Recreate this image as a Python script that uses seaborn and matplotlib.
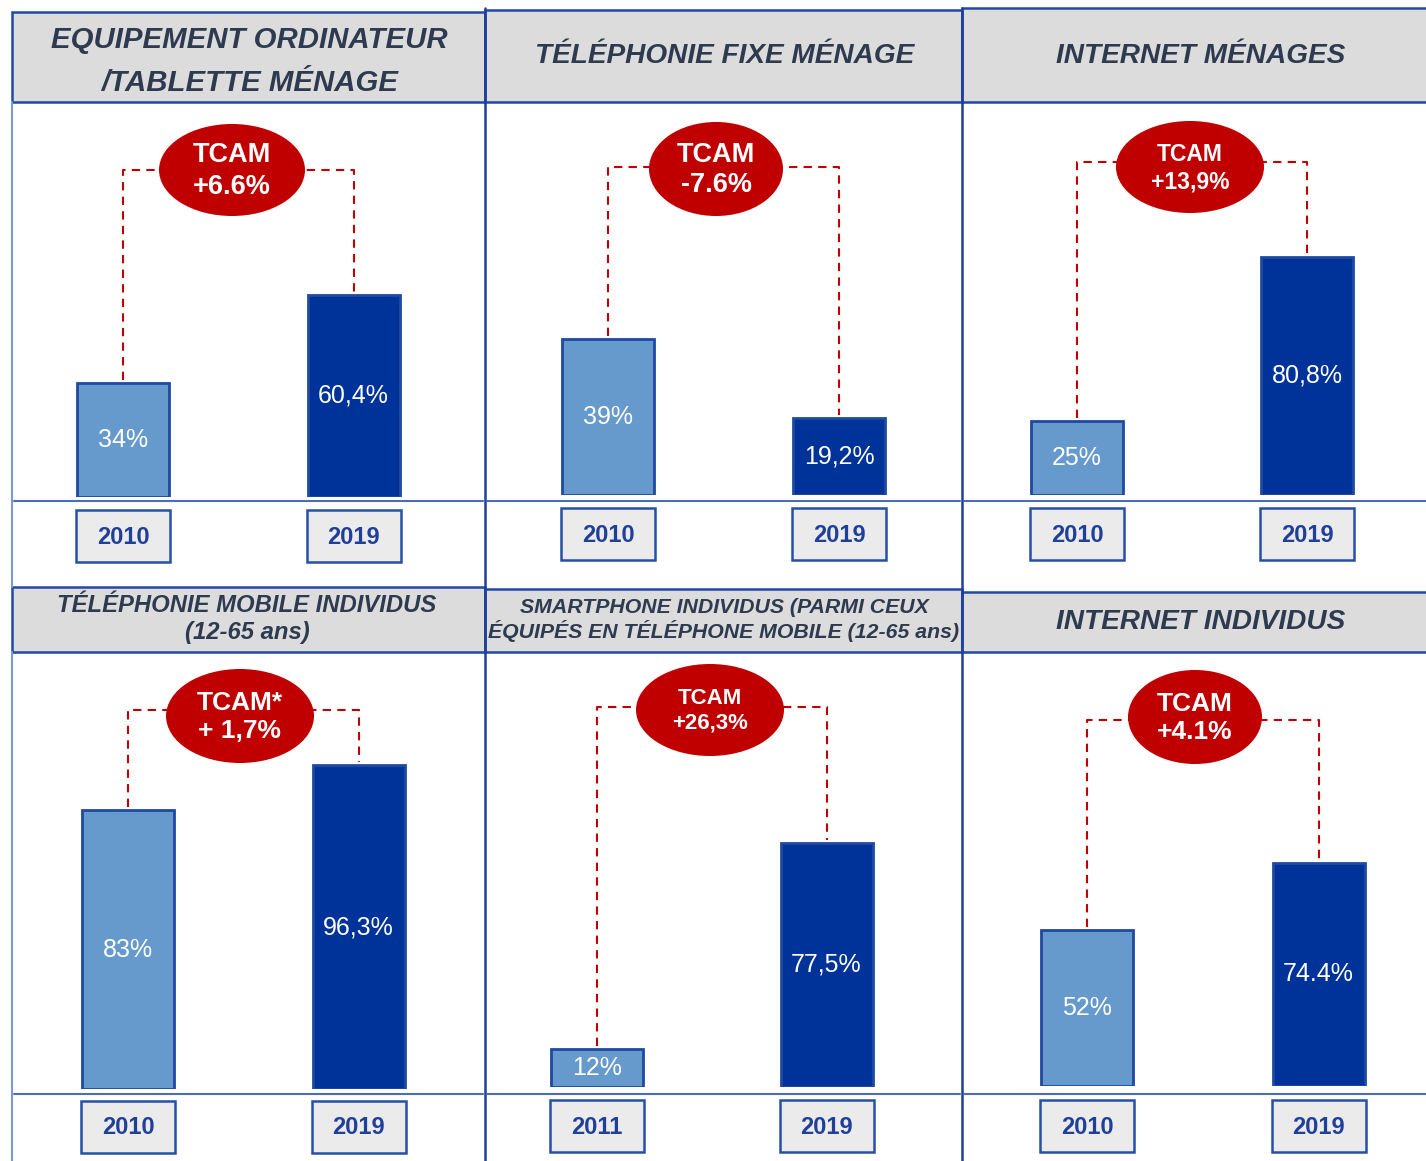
import numpy as np
import pandas as pd
import seaborn as sns
import matplotlib.pyplot as plt
from matplotlib.patches import Ellipse, Rectangle

# data
titles = [
    "EQUIPEMENT ORDINATEUR\n/TABLETTE MÉNAGE",
    "TÉLÉPHONIE FIXE MÉNAGE",
    "INTERNET MÉNAGES",
    "TÉLÉPHONIE MOBILE INDIVIDUS\n(12-65 ans)",
    "SMARTPHONE INDIVIDUS (PARMI CEUX\nÉQUIPÉS EN TÉLÉPHONE MOBILE (12-65 ans)",
    "INTERNET INDIVIDUS",
]
years = [
    ["2010", "2019"], ["2010", "2019"], ["2010", "2019"],
    ["2010", "2019"], ["2011", "2019"], ["2010", "2019"],
]
values = [
    [34, 60.4], [39, 19.2], [25, 80.8],
    [83, 96.3], [12, 77.5], [52, 74.4],
]
value_labels = [
    ["34%", "60,4%"], ["39%", "19,2%"], ["25%", "80,8%"],
    ["83%", "96,3%"], ["12%", "77,5%"], ["52%", "74.4%"],
]
tcam_labels = [
    "TCAM\n+6.6%", "TCAM\n-7.6%", "TCAM\n+13,9%",
    "TCAM*\n+ 1,7%", "TCAM\n+26,3%", "TCAM\n+4.1%",
]

# layout (pixels, y from top)
W, H = 1426, 1161
header_boxes = [(12, 12, 485, 102), (485, 10, 962, 102), (962, 8, 1432, 102),
                (12, 587, 485, 652), (485, 589, 962, 652), (962, 592, 1432, 652)]
title_xy = [(249.5, 61.5), (725, 56), (1201, 56), (247, 619), (724, 620), (1201, 622)]
title_size = [21.2, 20.2, 20.2, 17.2, 15.3, 20.2]
title_ls = [1.64, 1.2, 1.2, 1.2, 1.15, 1.2]
bar_centers = [(123, 353.5), (608, 839), (1077, 1307),
               (128, 358.5), (597, 826.5), (1087, 1318.5)]
bar_bottom = [497, 495, 495, 1089, 1087, 1086]
px_per_pct = [3.35, 4.0, 2.95, 3.36, 3.15, 3.0]
year_box_top = [510, 508, 508, 1101, 1100, 1100]
ellipses = [(232, 170, 146, 92), (716, 169, 134, 94), (1190, 167, 148, 92),
            (240, 716, 148, 94), (710, 710, 148, 92), (1195, 717, 134, 94)]
tcam_size = [19.5, 19.5, 16.5, 19, 16, 19]
dash_level = [170, 167, 162, 710, 707, 720]

LIGHT = "#6699CC"
DARK = "#003399"
EDGE = "#1F4AA0"
RED = "#C00000"
HEAD_FILL = "#DCDCDC"
HEAD_TEXT = "#2E3A4F"
YEAR_FILL = "#EBEBEB"
YEAR_TEXT = "#1F3F99"

sns.set_style("white")
plt.rcParams["font.family"] = ["Liberation Sans", "DejaVu Sans"]

fig = plt.figure(figsize=(W / 100, H / 100), dpi=100)


def fx(px):
    return px / W


def fy(py):
    return 1 - py / H


panel_axes = []
for i in range(6):
    c0, c1 = bar_centers[i]
    span = c1 - c0
    left = c0 - span / 2
    bottom = bar_bottom[i]
    top = bottom - 420
    ax = fig.add_axes([fx(left), fy(bottom), fx(2 * span), (bottom - top) / H])
    ax.set_zorder(2)
    ax.patch.set_alpha(0)
    df = pd.DataFrame({"year": years[i], "value": values[i]})
    sns.barplot(data=df, x="year", y="value", hue="year", palette=[LIGHT, DARK],
                legend=False, width=92 / span, edgecolor=EDGE, linewidth=2,
                saturation=1, ax=ax)
    ax.set_xlim(-0.5, 1.5)
    ax.set_ylim(0, 420 / px_per_pct[i])
    for j, v in enumerate(values[i]):
        ax.text(j, v / 2, value_labels[i][j], ha="center", va="center",
                color="white", fontsize=18)
    ax.axis("off")
    panel_axes.append(ax)

# overlay canvas in pixel coordinates
ov = fig.add_axes([0, 0, 1, 1])
ov.set_zorder(3)
ov.patch.set_alpha(0)
ov.set_xlim(0, W)
ov.set_ylim(H, 0)
ov.axis("off")

# frame lines
ov.plot([12, 12], [102, 587], color="#7F9AD0", lw=1.5)
ov.plot([12, 12], [652, H], color="#7F9AD0", lw=1.5)
for x in (485, 962):
    ov.plot([x, x], [8, H], color="#1F3F99", lw=1.8)
for y in (501, 1094):
    for a, b in [(14, 483), (487, 960), (964, W)]:
        ov.plot([a, b], [y, y], color="#4A6DB8", lw=1.5)

for i in range(6):
    x0, y0, x1, y1 = header_boxes[i]
    ov.add_patch(Rectangle((x0, y0), x1 - x0, y1 - y0, facecolor=HEAD_FILL,
                           edgecolor="#1F4AA8", lw=1.8, zorder=1))
    tx, ty = title_xy[i]
    ov.text(tx, ty, titles[i], ha="center", va="center",
            fontsize=title_size[i], fontweight="bold", fontstyle="italic",
            color=HEAD_TEXT, linespacing=title_ls[i], zorder=2)

    ax = panel_axes[i]
    tops = []
    xs = []
    for j, v in enumerate(values[i]):
        dx, dy = ax.transData.transform((j, v))
        xs.append(dx)
        tops.append(H - dy)
    lvl = dash_level[i]
    ov.plot([xs[0], xs[0], xs[1], xs[1]], [tops[0] - 3, lvl, lvl, tops[1] - 3],
            color=RED, lw=1.5, ls=(0, (4, 3)), zorder=3)
    cx, cy, ew, eh = ellipses[i]
    ov.add_patch(Ellipse((cx, cy), ew, eh, facecolor=RED, edgecolor="none", zorder=4))
    ov.text(cx, cy + 1, tcam_labels[i], ha="center", va="center", color="white",
            fontsize=tcam_size[i], fontweight="bold", linespacing=1.25, zorder=5)

    for j, yr in enumerate(years[i]):
        yt = year_box_top[i]
        ov.add_patch(Rectangle((xs[j] - 47, yt), 94, 52, facecolor=YEAR_FILL,
                               edgecolor="#2550A8", lw=1.8, zorder=3))
        ov.text(xs[j], yt + 27, yr, ha="center", va="center", color=YEAR_TEXT,
                fontsize=17, fontweight="bold", zorder=4)

fig.savefig("out.png", dpi=100)
